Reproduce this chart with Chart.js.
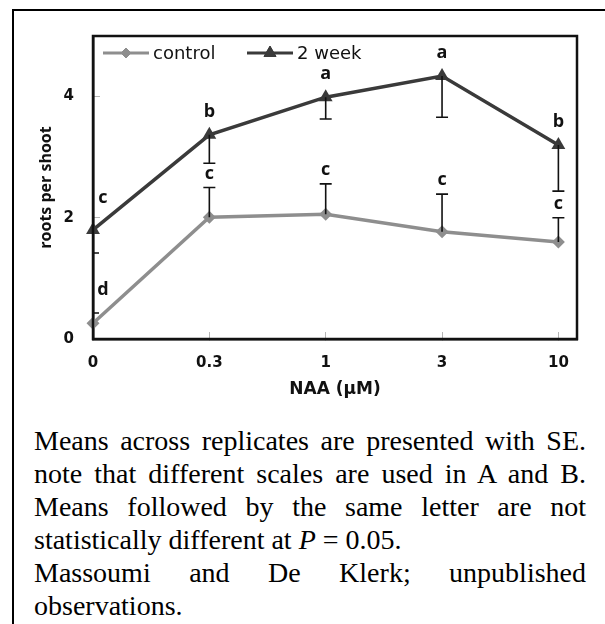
<!DOCTYPE html>
<html>
<head>
<meta charset="utf-8">
<script src="https://cdn.jsdelivr.net/npm/chart.js@4.4.1/dist/chart.umd.min.js"></script>
<style>
  body { margin: 0; background: #fff; width: 605px; height: 624px; overflow: hidden; position: relative; }
  #frame { position: absolute; left: 12px; top: 9px; width: 640px; height: 660px; border-left: 2px solid #000; border-top: 2px solid #000; }
  #wrap { position: absolute; left: 0; top: 0; width: 605px; height: 410px; }
  #caption { position: absolute; left: 34px; top: 424px; width: 552px; font-family: "Liberation Serif", "Times New Roman", serif; font-size: 28px; line-height: 33px; color: #000; }
  #caption div { text-align: justify; text-align-last: justify; white-space: nowrap; }
  #caption div.last { text-align-last: left; }
</style>
</head>
<body>
<div id="frame"></div>
<div id="wrap"><canvas id="rootsChart"></canvas></div>
<div id="caption">
  <div>Means across replicates are presented with SE.</div>
  <div>note that different scales are used in A and B.</div>
  <div>Means followed by the same letter are not</div>
  <div class="last">statistically different at <i>P</i> = 0.05.</div>
  <div>Massoumi and De Klerk; unpublished</div>
  <div class="last">observations.</div>
</div>
<script>
// --- Data ---
const xLabels = ['0', '0.3', '1', '3', '10'];
const yTicks = [0, 2, 4];

const controlMeans = [0.26, 2.01, 2.06, 1.77, 1.6];
const controlSE = [0.17, 0.49, 0.5, 0.62, 0.4];      // drawn upward
const controlLetters = ['d', 'c', 'c', 'c', 'c'];

const weekMeans = [1.8, 3.37, 3.99, 4.34, 3.2];
const weekSE = [0.38, 0.47, 0.36, 0.68, 0.76];        // drawn downward
const weekLetters = ['c', 'b', 'a', 'a', 'b'];

const controlColor = '#8e8e8e';
const weekColor = '#3a3a3a';
const tickFont = { family: 'DejaVu Sans', size: 15, weight: 'bold' };

const toXY = (vals) => vals.map((v, i) => ({ x: i, y: v }));

// --- Plugins ---
const errorBars = {
  id: 'errorBars',
  afterDatasetsDraw(chart) {
    const { ctx, chartArea: a, scales: { x, y } } = chart;
    const cap = 6;
    ctx.save();
    ctx.beginPath();
    ctx.rect(a.left, a.top, a.right - a.left, a.bottom - a.top);
    ctx.clip();
    ctx.strokeStyle = '#111';
    ctx.lineWidth = 1.6;
    const bar = (i, from, to) => {
      const px = x.getPixelForValue(i);
      const y0 = y.getPixelForValue(from);
      const y1 = y.getPixelForValue(to);
      ctx.beginPath();
      ctx.moveTo(px, y0);
      ctx.lineTo(px, y1);
      ctx.moveTo(px - cap, y1);
      ctx.lineTo(px + cap, y1);
      ctx.stroke();
    };
    weekMeans.forEach((m, i) => bar(i, m, m - weekSE[i]));
    controlMeans.forEach((m, i) => bar(i, m, m + controlSE[i]));
    ctx.restore();
  }
};

const letters = {
  id: 'letters',
  afterDatasetsDraw(chart) {
    const { ctx, scales: { x, y } } = chart;
    ctx.save();
    ctx.fillStyle = '#111';
    ctx.font = 'bold 18px "Open Sans"';
    ctx.textAlign = 'center';
    ctx.textBaseline = 'middle';
    const put = (i, val, txt, gap) => {
      let px = x.getPixelForValue(i);
      let py = y.getPixelForValue(val) - gap;
      if (i === 0) { px += 10; py -= 9; }  // first group sits next to the axis
      ctx.fillText(txt, px, py);
    };
    weekMeans.forEach((m, i) => put(i, m, weekLetters[i], 23));
    controlMeans.forEach((m, i) => put(i, m + controlSE[i], controlLetters[i], 14));
    ctx.restore();
  }
};

const frameAndLegend = {
  id: 'frameAndLegend',
  afterDraw(chart) {
    const { ctx, chartArea: a } = chart;
    ctx.save();
    ctx.strokeStyle = '#111';
    ctx.lineWidth = 2.5;
    ctx.strokeRect(a.left, a.top, a.right - a.left, a.bottom - a.top);

    // legend inside plot, top left
    const ly = a.top + 17;
    const items = [
      { x0: a.left + 10, label: 'control', color: controlColor, style: 'rectRot', r: 5 },
      { x0: a.left + 154, label: '2 week', color: weekColor, style: 'triangle', r: 7 }
    ];
    ctx.font = '18px "DejaVu Sans"';
    ctx.textBaseline = 'middle';
    ctx.textAlign = 'left';
    items.forEach(it => {
      ctx.strokeStyle = it.color;
      ctx.lineWidth = 3;
      ctx.beginPath();
      ctx.moveTo(it.x0, ly);
      ctx.lineTo(it.x0 + 46, ly);
      ctx.stroke();
      ctx.fillStyle = it.color;
      ctx.strokeStyle = it.color;
      ctx.lineWidth = 1;
      ctx.beginPath();
      Chart.helpers.drawPoint(ctx, { pointStyle: it.style, radius: it.r, borderWidth: 1, rotation: 0 }, it.x0 + 23, ly);
      ctx.fill();
      ctx.fillStyle = '#111';
      ctx.fillText(it.label, it.x0 + 50, ly + 1);
    });
    ctx.restore();
  }
};

// --- Chart ---
new Chart(document.getElementById('rootsChart'), {
  type: 'line',
  data: {
    datasets: [
      {
        label: 'control',
        data: toXY(controlMeans),
        borderColor: controlColor,
        backgroundColor: controlColor,
        borderWidth: 3.5,
        pointStyle: 'rectRot',
        pointRadius: 6.5,
        pointBorderWidth: 0,
        tension: 0,
        clip: false
      },
      {
        label: '2 week',
        data: toXY(weekMeans),
        borderColor: weekColor,
        backgroundColor: weekColor,
        borderWidth: 3.5,
        pointStyle: 'triangle',
        pointRadius: 8,
        pointBorderWidth: 0,
        tension: 0,
        clip: false
      }
    ]
  },
  options: {
    responsive: true,
    maintainAspectRatio: false,
    animation: false,
    layout: { padding: { top: 36, right: 28, left: 0, bottom: 0 } },
    plugins: {
      legend: { display: false },
      tooltip: { enabled: false }
    },
    scales: {
      x: {
        type: 'linear',
        min: 0,
        max: 4.16,
        afterBuildTicks: (axis) => { axis.ticks = xLabels.map((_, i) => ({ value: i })); },
        afterFit: (axis) => { axis.height = 71; },
        border: { display: true, color: '#111', width: 2.5 },
        grid: { drawOnChartArea: false, drawTicks: true, tickLength: -7, color: '#b5b5b5' },
        ticks: {
          color: '#111',
          font: tickFont,
          padding: 22,
          maxRotation: 0,
          callback: (v) => xLabels[v]
        },
        title: {
          display: true,
          text: 'NAA (µM)',
          color: '#111',
          font: { family: 'DejaVu Sans', size: 17, weight: 'bold' },
          padding: { top: 0, bottom: 10 }
        }
      },
      y: {
        min: 0,
        max: 5,
        afterBuildTicks: (axis) => { axis.ticks = yTicks.map(v => ({ value: v })); },
        afterFit: (axis) => { axis.width = 93; },
        border: { display: true, color: '#111', width: 2.5 },
        grid: { drawOnChartArea: false, drawTicks: true, tickLength: -7, color: '#b5b5b5' },
        ticks: { color: '#111', font: tickFont, padding: 26 },
        title: {
          display: true,
          text: 'roots per shoot',
          color: '#111',
          font: { family: 'Open Sans', size: 16, weight: 'bold' },
          padding: { top: 37, bottom: 0 }
        }
      }
    }
  },
  plugins: [errorBars, letters, frameAndLegend]
});
</script>
</body>
</html>
